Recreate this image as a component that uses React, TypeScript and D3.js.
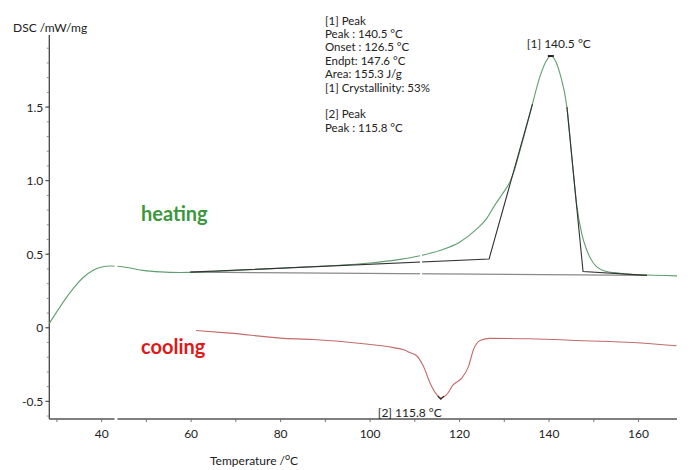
import React from "react";
import * as d3 from "d3";

// ---- data (temperature °C, DSC mW/mg) ----
const heatT = [28.3, 30, 32, 34, 36, 38, 40, 42, 45.7, 49.3, 53.1, 57.5, 62, 70, 80, 90, 100, 106.7, 111.2, 115.6, 120.1, 123.8, 126, 127.6, 129.7, 131.3, 132.3, 133.1, 134.6, 136.1, 138, 139.3, 140.4, 141.5, 142.5, 144, 145.1, 146.2, 147.3, 148.4, 149.9, 152.1, 155.9, 160, 168.6];
const heatV = [0.03, 0.11, 0.2, 0.28, 0.345, 0.39, 0.413, 0.42, 0.41, 0.39, 0.38, 0.376, 0.378, 0.39, 0.405, 0.42, 0.44, 0.465, 0.49, 0.525, 0.583, 0.67, 0.74, 0.82, 0.915, 0.995, 1.075, 1.16, 1.325, 1.5, 1.71, 1.81, 1.847, 1.81, 1.72, 1.5, 1.16, 0.83, 0.64, 0.53, 0.44, 0.39, 0.37, 0.36, 0.353];

const coolT = [61.1, 68.7, 79.9, 87.3, 98.5, 105.2, 107.5, 109, 110.4, 111.9, 113.4, 114.9, 115.8, 117.1, 118.6, 120.5, 122, 123.1, 124.6, 126.8, 135.8, 147.7, 158.8, 168.5];
const coolV = [-0.018, -0.036, -0.07, -0.08, -0.109, -0.135, -0.15, -0.17, -0.19, -0.26, -0.375, -0.455, -0.478, -0.455, -0.387, -0.342, -0.262, -0.149, -0.086, -0.072, -0.075, -0.088, -0.1, -0.122];

// baseline construction lines (T, V pairs)
const baseGrayT = [59.8, 161.9];
const baseGrayV = [0.378, 0.356];
const tangentT = [59.8, 126.6, 136.3];
const tangentV = [0.378, 0.468, 1.52];
const tangent2T = [144, 147.6, 161.9];
const tangent2V = [1.5, 0.382, 0.356];

const peak1 = { t: 140.4, v: 1.847 };
const peak2 = { t: 115.8, v: -0.478 };
const breakTemps = [43.2, 111.4];

const yMajor = [-0.5, 0, 0.5, 1.0, 1.5];
const yMajorLabels = ["-0.5", "0", "0.5", "1.0", "1.5"];
const xMajor = [40, 60, 80, 100, 120, 140, 160];

const infoLines = ["[1] Peak", "Peak : 140.5 °C", "Onset : 126.5 °C", "Endpt: 147.6 °C", "Area: 155.3 J/g", "[1] Crystallinity: 53%", "", "[2] Peak", "Peak : 115.8 °C"];

const FONT = "Lato, 'Open Sans', sans-serif";

export default function App() {
  const x = d3.scaleLinear().domain([28.3, 168.6]).range([49.3, 677]);
  const y = d3.scaleLinear().domain([-0.62, 1.99]).range([419, 35]);

  const curve = d3.line<[number, number]>().x(d => x(d[0])).y(d => y(d[1])).curve(d3.curveMonotoneX);
  const straight = d3.line<[number, number]>().x(d => x(d[0])).y(d => y(d[1]));

  const heat: [number, number][] = heatT.map((t, i) => [t, heatV[i]]);
  const cool: [number, number][] = coolT.map((t, i) => [t, coolV[i]]);
  const zip = (a: number[], b: number[]) => a.map((t, i) => [t, b[i]] as [number, number]);

  const yMinor = d3.range(-6, 20).map(i => i / 10);
  const xMinor = d3.range(30, 161, 10);

  const x0 = x.range()[0];
  const x1 = x.range()[1];
  const yb = y.range()[0];
  const yt = y.range()[1];

  return (
    <svg width={700} height={470} style={{ position: "absolute", left: 0, top: 0, background: "#fff" }} fontFamily={FONT}>
      <rect width={700} height={470} fill="#fff" />
      {/* axes */}
      <line x1={x0} x2={x0} y1={yt} y2={yb} stroke="#444" strokeWidth={1.3} />
      <line x1={x0} x2={x1} y1={yb} y2={yb} stroke="#555" strokeWidth={1.3} />
      {yMinor.map(v => (
        <line key={"ym" + v} x1={x0 - 2.5} x2={x0} y1={y(v)} y2={y(v)} stroke="#777" strokeWidth={0.8} />
      ))}
      {yMajor.map((v, i) => (
        <g key={"yM" + v}>
          <line x1={x0 - 4} x2={x0} y1={y(v)} y2={y(v)} stroke="#444" strokeWidth={1} />
          <text x={x0 - 6} y={y(v)} textAnchor="end" dominantBaseline="central" fontSize={12} fill="#222">{yMajorLabels[i]}</text>
        </g>
      ))}
      {xMinor.map(t => (
        <line key={"xm" + t} x1={x(t)} x2={x(t)} y1={yb} y2={yb + 3} stroke="#666" strokeWidth={0.9} />
      ))}
      {xMajor.map(t => (
        <text key={"xl" + t} x={x(t)} y={yb + 14} textAnchor="middle" dominantBaseline="central" fontSize={12} fill="#222">{t}</text>
      ))}
      <text x={13} y={27} dominantBaseline="central" fontSize={12} fill="#222">DSC /mW/mg</text>
      <text x={210} y={460} dominantBaseline="central" fontSize={12} fill="#222">
        Temperature /<tspan dy={-4} fontSize={9}>o</tspan><tspan dy={4}>C</tspan>
      </text>

      {/* construction lines */}
      <path d={straight(zip(baseGrayT, baseGrayV)) || ""} fill="none" stroke="#8a8a8a" strokeWidth={1.3} />
      {/* curves */}
      <path d={curve(heat) || ""} fill="none" stroke="#5f9f6f" strokeWidth={1.1} />
      <path d={curve(cool) || ""} fill="none" stroke="#c46a6a" strokeWidth={1.1} />
      <path d={straight(zip(tangentT, tangentV)) || ""} fill="none" stroke="#333" strokeWidth={1.1} />
      <path d={straight(zip(tangent2T, tangent2V)) || ""} fill="none" stroke="#333" strokeWidth={1.1} />

      {/* break gaps */}
      <rect x={x(breakTemps[0]) - 1.5} width={3} y={y(0.5)} height={yb - y(0.5) + 2} fill="#fff" />
      <rect x={x(breakTemps[1]) - 1} width={2} y={y(0.52)} height={y(-0.2) - y(0.52)} fill="#fff" />

      {/* peak markers */}
      <path d={`M${x(peak1.t) - 3},${y(peak1.v)} L${x(peak1.t) + 3},${y(peak1.v)}`} stroke="#222" strokeWidth={2} />
      <path d={`M${x(peak2.t) - 3},${y(peak2.v) - 2} L${x(peak2.t)},${y(peak2.v) + 1} L${x(peak2.t) + 3},${y(peak2.v) - 2}`} stroke="#222" strokeWidth={1.2} fill="none" />
      <text x={x(peak1.t) + 8} y={y(peak1.v) - 13} textAnchor="middle" dominantBaseline="central" fontSize={12} fill="#222">[1] 140.5 °C</text>
      <text x={x(peak2.t) - 31} y={y(peak2.v) + 14} textAnchor="middle" dominantBaseline="central" fontSize={12} fill="#222">[2] 115.8 °C</text>

      {/* info block */}
      {infoLines.map((s, i) => (
        <text key={"info" + i} x={325} y={20 + i * 13.4} dominantBaseline="central" fontSize={11.5} fill="#222">{s}</text>
      ))}

      <text x={141} y={213} dominantBaseline="central" fontSize={20} fontWeight="bold" fill="#3c973c">heating</text>
      <text x={141} y={346} dominantBaseline="central" fontSize={20} fontWeight="bold" fill="#e01818">cooling</text>
    </svg>
  );
}
